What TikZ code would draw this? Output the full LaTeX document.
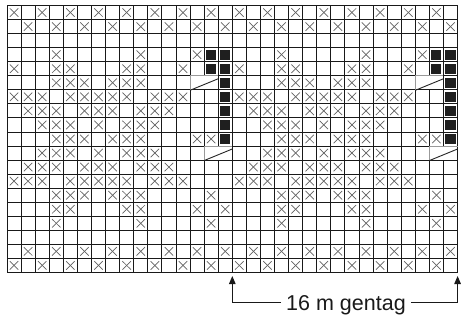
\documentclass[tikz,border=0pt]{standalone}
\usepackage{fontspec}
\setmainfont{Liberation Sans}
\usetikzlibrary{arrows.meta}
\begin{document}
\begin{tikzpicture}[x=1pt,y=-1pt,
  gridline/.style={line width=0.85pt, draw=black!90},
  xmark/.style={line width=0.7pt, draw=black!62},
  blk/.style={fill=black!88},
  slant/.style={line width=0.9pt, draw=black!85},
  mergeedge/.style={line width=0.8pt, draw=black!40},
  lead/.style={line width=1.1pt, draw=black!90, -{Triangle[length=8pt,width=6.5pt]}},
  lbltext/.style={font=\fontsize{21.5}{21.5}\selectfont, text=black!90, inner xsep=5pt, inner ysep=0pt, text height=15.5pt, text depth=0pt}]
\useasboundingbox (0,0) rectangle (461,322);
\def\cw{14.08}\def\ch{14.05}\def\ox{7}\def\oy{5.5}
% grid
\foreach \i in {0,...,32}
  \draw[gridline] ({\ox+\i*\cw},\oy) -- ({\ox+\i*\cw},{\oy+19*\ch});
\foreach \j in {0,...,19}
  \draw[gridline] (\ox,{\oy+\j*\ch}) -- ({\ox+32*\cw},{\oy+\j*\ch});
% crosses
\foreach \r/\l in {
  0/{0,2,4,6,8,10,12,14,16,18,20,22,24,26,28,30},
  1/{1,3,5,7,9,11,13,15,17,19,21,23,25,27,29,31},
  3/{3,9,13,19,25,29},
  4/{0,3,4,8,9,12,16,19,20,24,25,28},
  5/{3,4,5,7,8,9,19,20,21,23,24,25},
  6/{0,1,2,4,5,6,7,8,10,11,12,16,17,18,20,21,22,23,24,26,27,28},
  7/{1,2,3,5,6,7,9,10,11,17,18,19,21,22,23,25,26,27},
  8/{2,3,4,6,8,9,10,18,19,20,22,24,25,26},
  9/{3,4,5,7,8,9,13,14,19,20,21,23,24,25,29,30},
  10/{2,3,4,6,8,9,10,18,19,20,22,24,25,26},
  11/{1,2,3,5,6,7,9,10,11,17,18,19,21,22,23,25,26,27},
  12/{0,1,2,4,5,6,7,8,10,11,12,16,17,18,20,21,22,23,24,26,27,28},
  13/{3,4,5,7,8,9,14,19,20,21,23,24,25,30},
  14/{3,4,8,9,13,15,19,20,24,25,29,31},
  15/{3,9,14,19,25,30},
  17/{1,3,5,7,9,11,13,15,17,19,21,23,25,27,29,31},
  18/{0,2,4,6,8,10,12,14,16,18,20,22,24,26,28,30}}
{
  \foreach \c in \l {
    \draw[xmark] ({\ox+(\c+0.2)*\cw},{\oy+(\r+0.2)*\ch}) -- ({\ox+(\c+0.8)*\cw},{\oy+(\r+0.8)*\ch});
    \draw[xmark] ({\ox+(\c+0.2)*\cw},{\oy+(\r+0.8)*\ch}) -- ({\ox+(\c+0.8)*\cw},{\oy+(\r+0.2)*\ch});
  }
}
% black squares
\foreach \c/\r in {14/3,15/3,30/3,31/3,14/4,15/4,30/4,31/4,15/5,15/6,15/7,15/8,15/9,31/5,31/6,31/7,31/8,31/9}
  \fill[blk] ({\ox+\c*\cw+2},{\oy+\r*\ch+2}) rectangle ({\ox+(\c+1)*\cw-2},{\oy+(\r+1)*\ch-2});
% merged two-stitch cells with slanted line
\foreach \c/\r in {13/5,29/5,14/10,30/10} {
  \fill[white] ({\ox+\c*\cw+0.5},{\oy+\r*\ch+0.5}) rectangle ({\ox+(\c+2)*\cw-0.5},{\oy+(\r+1)*\ch-0.5});
  \draw[mergeedge] ({\ox+\c*\cw},{\oy+(\r+1)*\ch}) -- ({\ox+\c*\cw},{\oy+\r*\ch}) -- ({\ox+(\c+2)*\cw},{\oy+\r*\ch});
  \draw[slant] ({\ox+\c*\cw},{\oy+(\r+1)*\ch+0.5}) -- ({\ox+(\c+2)*\cw},{\oy+\r*\ch+3});
}
% repeat annotation
\node[lbltext] (lbl) at (346,302.7) {16 m gentag};
\coordinate (tipL) at (232.3,276);
\coordinate (tipR) at (457.6,276);
\draw[lead] (lbl.west) -| (tipL);
\draw[lead] (lbl.east) -| (tipR);
\end{tikzpicture}
\end{document}
